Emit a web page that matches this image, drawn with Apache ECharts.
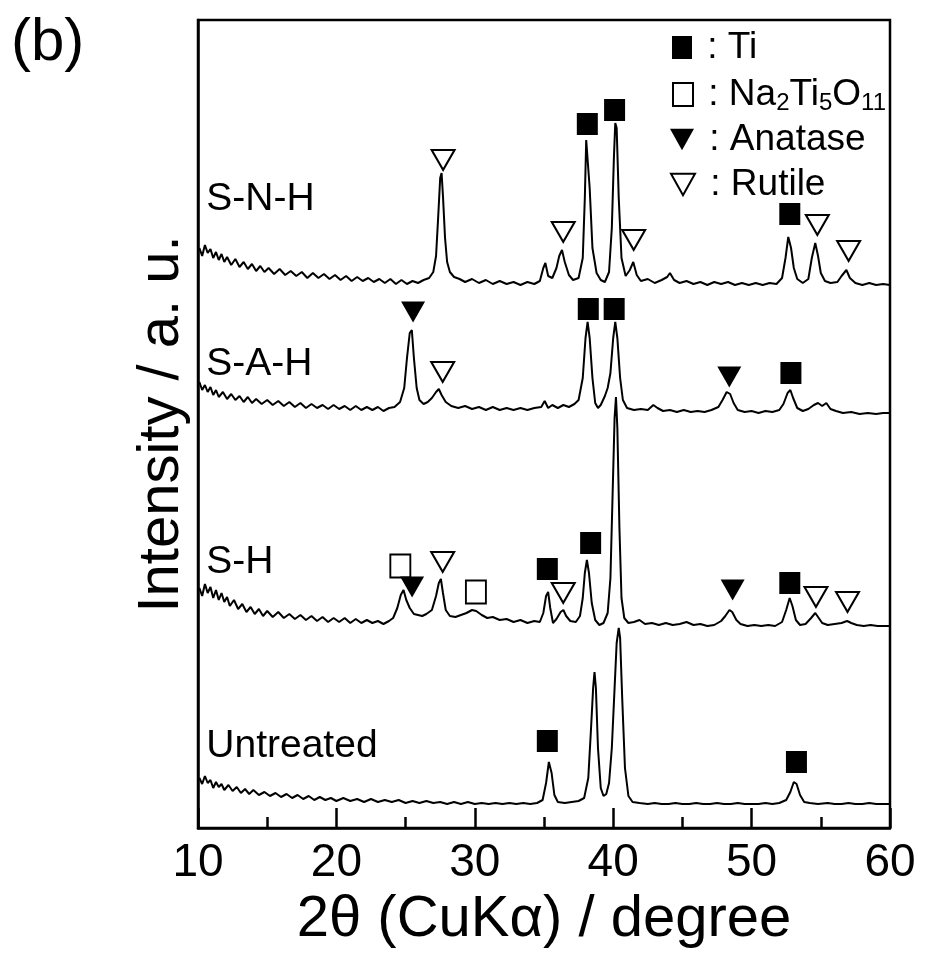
<!DOCTYPE html>
<html>
<head>
<meta charset="utf-8">
<script src="https://cdn.jsdelivr.net/npm/echarts@6/dist/echarts.min.js"></script>
<style>
  html, body { margin: 0; padding: 0; background: #fff; }
  #chart { width: 926px; height: 954px; }
</style>
</head>
<body>
<div id="chart"></div>
<script>
// XRD patterns, [2theta, intensity (arb.)]
const untreated = [[10.1,50],[10.3,44],[10.5,52],[10.7,45],[10.9,48],[11.1,40],[11.3,46],[11.5,41],[11.7,44],[11.9,38],[12.2,43],[12.5,37],[12.8,41],[13.1,35],[13.4,39],[13.7,34],[14.0,38],[14.4,33],[14.8,36],[15.2,32],[15.6,35],[16.0,31],[16.4,34],[16.8,30],[17.2,33],[17.6,29],[18.0,32],[18.4,28],[18.8,31],[19.2,28],[19.6,30],[20.0,27],[20.5,30],[21.0,27],[21.5,29],[22.0,26],[22.5,29],[23.0,26],[23.5,28],[24.0,26],[24.5,28],[25.0,25],[25.5,27],[26.0,25],[26.5,27],[27.0,25],[27.5,26],[28.0,24],[28.5,26],[29.0,24],[29.5,26],[30.0,24],[30.5,25],[31.0,24],[31.5,25],[32.0,24],[32.5,25],[33.0,24],[33.5,25],[34.0,24],[34.5,25],[34.9,28],[35.15,45],[35.35,66],[35.55,55],[35.75,33],[36.0,26],[36.5,25],[37.0,26],[37.5,27],[37.9,30],[38.2,50],[38.4,100],[38.55,140],[38.65,156],[38.75,140],[38.9,80],[39.1,40],[39.3,32],[39.5,34],[39.7,45],[39.9,80],[40.1,140],[40.25,185],[40.4,200],[40.5,190],[40.65,130],[40.85,60],[41.1,32],[41.4,26],[41.9,25],[42.5,24],[43.0,25],[43.5,24],[44.0,24],[44.5,25],[45.0,24],[45.5,24],[46.0,25],[46.5,24],[47.0,24],[47.5,25],[48.0,24],[48.5,24],[49.0,25],[49.5,24],[50.0,24],[50.5,24],[51.0,25],[51.5,24],[52.0,25],[52.5,28],[52.8,36],[53.05,46],[53.25,44],[53.5,33],[53.8,26],[54.2,25],[54.8,24],[55.5,25],[56.0,24],[56.5,24],[57.0,25],[57.5,24],[58.0,24],[58.5,25],[59.0,24],[59.5,24],[60.0,24]];

const sH = [[10.1,240],[10.3,232],[10.5,244],[10.7,235],[10.9,241],[11.1,230],[11.3,238],[11.5,228],[11.7,235],[11.9,226],[12.1,231],[12.3,222],[12.6,228],[12.9,219],[13.2,224],[13.5,216],[13.8,221],[14.1,214],[14.4,219],[14.7,212],[15.0,217],[15.4,211],[15.8,216],[16.2,210],[16.6,214],[17.0,209],[17.4,213],[17.8,208],[18.2,212],[18.6,207],[19.0,211],[19.4,206],[19.8,210],[20.2,206],[20.6,210],[21.0,205],[21.4,209],[21.8,205],[22.2,208],[22.6,205],[23.0,207],[23.4,204],[23.8,207],[24.1,210],[24.4,220],[24.65,233],[24.85,238],[25.05,228],[25.3,220],[25.6,214],[25.9,213],[26.2,212],[26.5,214],[26.9,218],[27.2,232],[27.4,245],[27.55,249],[27.7,235],[27.9,218],[28.2,212],[28.6,211],[29.0,213],[29.4,215],[29.8,218],[30.1,217],[30.5,213],[30.9,210],[31.3,211],[31.8,208],[32.3,209],[32.8,206],[33.3,208],[33.8,205],[34.3,207],[34.7,206],[34.95,215],[35.15,232],[35.3,236],[35.45,220],[35.65,205],[35.9,209],[36.2,216],[36.4,218],[36.6,212],[36.9,207],[37.3,206],[37.6,212],[37.8,230],[37.95,255],[38.1,268],[38.25,255],[38.45,225],[38.7,208],[39.0,203],[39.3,205],[39.6,215],[39.8,250],[39.95,330],[40.1,410],[40.2,431],[40.3,400],[40.45,300],[40.6,230],[40.8,210],[41.1,205],[41.5,206],[41.9,208],[42.3,204],[42.8,205],[43.3,203],[43.8,205],[44.3,203],[44.8,204],[45.3,206],[45.8,203],[46.3,204],[46.8,202],[47.3,203],[47.8,207],[48.1,212],[48.4,218],[48.6,216],[48.9,208],[49.2,204],[49.7,202],[50.2,203],[50.7,202],[51.2,203],[51.7,202],[52.2,206],[52.5,218],[52.75,230],[52.95,222],[53.2,208],[53.5,203],[53.9,204],[54.3,210],[54.6,215],[54.85,210],[55.1,205],[55.5,203],[56.0,204],[56.5,205],[56.9,207],[57.2,205],[57.6,203],[58.1,202],[58.6,203],[59.1,202],[59.6,202],[60.0,202]];

const sAH = [[10.1,446],[10.3,438],[10.5,443],[10.7,436],[10.9,441],[11.1,433],[11.3,438],[11.5,431],[11.8,436],[12.1,429],[12.4,434],[12.7,428],[13.0,432],[13.3,426],[13.6,431],[13.9,425],[14.2,429],[14.6,424],[15.0,428],[15.4,423],[15.8,427],[16.2,422],[16.6,426],[17.0,421],[17.4,425],[17.8,420],[18.2,424],[18.6,420],[19.0,423],[19.4,419],[19.8,423],[20.2,419],[20.6,422],[21.0,418],[21.4,422],[21.8,418],[22.2,421],[22.6,418],[23.0,421],[23.4,417],[23.8,420],[24.2,421],[24.6,426],[24.9,440],[25.1,470],[25.3,495],[25.45,498],[25.6,470],[25.8,440],[26.0,428],[26.3,424],[26.6,426],[26.9,430],[27.2,436],[27.4,439],[27.6,433],[27.9,426],[28.3,422],[28.8,420],[29.3,422],[29.8,419],[30.3,421],[30.8,418],[31.3,421],[31.8,418],[32.3,420],[32.8,418],[33.3,420],[33.8,418],[34.3,420],[34.8,421],[35.05,427],[35.3,420],[35.6,423],[36.0,420],[36.4,423],[36.8,421],[37.2,424],[37.5,428],[37.8,450],[38.0,490],[38.15,506],[38.3,490],[38.5,450],[38.7,425],[38.9,420],[39.1,423],[39.4,432],[39.6,440],[39.8,455],[40.0,490],[40.15,506],[40.3,490],[40.5,450],[40.7,428],[41.0,420],[41.5,418],[42.0,419],[42.5,418],[42.9,423],[43.2,420],[43.6,417],[44.1,418],[44.6,416],[45.1,418],[45.6,416],[46.1,417],[46.6,416],[47.1,418],[47.6,421],[47.9,428],[48.2,436],[48.45,434],[48.7,425],[49.0,418],[49.5,416],[50.0,417],[50.5,415],[51.0,417],[51.5,416],[52.0,418],[52.3,424],[52.6,435],[52.8,438],[53.0,430],[53.3,420],[53.7,417],[54.1,419],[54.5,423],[54.8,425],[55.1,422],[55.4,425],[55.7,419],[56.1,417],[56.6,415],[57.2,416],[57.8,414],[58.4,415],[59.0,414],[59.5,415],[60.0,415]];

const sNH = [[10.1,580],[10.3,572],[10.5,583],[10.7,575],[10.9,579],[11.1,570],[11.3,576],[11.5,568],[11.7,574],[11.9,566],[12.1,571],[12.4,563],[12.7,569],[13.0,561],[13.3,566],[13.6,559],[13.9,564],[14.2,557],[14.5,562],[14.8,556],[15.1,560],[15.5,554],[15.9,559],[16.3,553],[16.7,557],[17.1,552],[17.5,556],[17.9,550],[18.3,555],[18.7,550],[19.1,554],[19.5,549],[19.9,553],[20.3,548],[20.7,552],[21.1,547],[21.5,551],[21.9,547],[22.3,550],[22.7,546],[23.1,549],[23.5,545],[23.9,549],[24.3,544],[24.7,548],[25.1,544],[25.5,547],[25.9,545],[26.3,548],[26.7,550],[27.0,556],[27.2,572],[27.35,610],[27.5,650],[27.6,655],[27.7,632],[27.85,590],[28.0,566],[28.2,556],[28.5,551],[28.9,549],[29.3,546],[29.8,549],[30.3,545],[30.8,548],[31.3,544],[31.8,547],[32.3,544],[32.8,546],[33.3,543],[33.8,546],[34.3,544],[34.7,547],[34.95,560],[35.1,565],[35.3,552],[35.6,550],[35.9,560],[36.1,572],[36.3,578],[36.5,566],[36.8,553],[37.1,548],[37.5,550],[37.8,570],[37.95,630],[38.05,688],[38.15,690],[38.3,640],[38.5,580],[38.8,555],[39.1,548],[39.4,546],[39.7,556],[39.9,600],[40.05,670],[40.15,705],[40.25,700],[40.4,630],[40.6,570],[40.9,552],[41.2,558],[41.45,566],[41.7,553],[42.0,547],[42.5,549],[43.0,545],[43.5,548],[43.9,551],[44.1,555],[44.4,548],[44.8,545],[45.3,547],[45.8,544],[46.3,546],[46.8,543],[47.3,546],[47.8,544],[48.3,546],[48.8,543],[49.3,545],[49.8,543],[50.3,545],[50.8,543],[51.3,545],[51.8,544],[52.2,550],[52.45,570],[52.65,591],[52.85,580],[53.05,560],[53.3,549],[53.7,545],[54.1,549],[54.35,570],[54.6,585],[54.8,572],[55.0,555],[55.3,547],[55.7,545],[56.2,546],[56.5,552],[56.85,558],[57.1,550],[57.5,545],[58.0,543],[58.5,545],[59.0,543],[59.5,544],[60.0,543]];

// phase markers placed above the peaks
const tiMarks = [[38.13,704],[40.1,718],[52.76,614],[38.2,519],[40.07,519],[52.84,455],[35.24,259],[38.37,285],[52.76,245],[35.24,87],[53.24,66]];
const naMarks = [[24.62,262],[30.08,236]];
const anataseMarks = [[25.54,516],[48.39,451],[25.47,241],[48.63,238]];
const rutileMarks = [[27.71,668],[36.39,596],[41.48,588],[54.75,603],[57.01,577],[27.68,456],[27.68,266],[36.39,235],[54.65,231],[56.93,226]];

const phaseNames = ['Ti', 'Na2Ti5O11', 'Anatase', 'Rutile'];
const sampleNames = ['S-N-H', 'S-A-H', 'S-H', 'Untreated'];
const sampleLabelPos = [[10.6,629],[10.6,464],[10.6,266],[10.6,82]];

const xTicks = [10, 20, 30, 40, 50, 60];

const FONT = '"Liberation Sans", Arial, Helvetica, sans-serif';
const downTri = 'path://M0,0 L20,0 L10,18 Z';

const chart = echarts.init(document.getElementById('chart'));

function curve(name, data) {
  return {
    name: name,
    type: 'line',
    data: data,
    showSymbol: false,
    symbol: 'none',
    lineStyle: {color: '#000', width: 2},
    z: 2,
    silent: true
  };
}

function marks(name, data, symbol, size, filled) {
  return {
    name: name,
    type: 'scatter',
    data: data,
    symbol: symbol,
    symbolSize: size,
    itemStyle: {
      color: filled ? '#000' : '#fff',
      borderColor: '#000',
      borderWidth: filled ? 0 : 2,
      opacity: 1
    },
    z: 5,
    silent: true
  };
}

// one legend box per row, so each row sits where it does in the figure
function legendRow(name, top, iconW, left) {
  return {
    orient: 'horizontal',
    left: left,
    top: top,
    itemWidth: iconW,
    itemHeight: 23,
    selectedMode: false,
    data: [name],
    formatter: function (n) {
      if (n === 'Na2Ti5O11') {
        return '{t| : Na}{s|2}{t|Ti}{s|5}{t|O}{s|11}';
      }
      return '{t| : ' + n + '}';
    },
    textStyle: {
      fontFamily: FONT,
      fontSize: 37,
      color: '#000',
      rich: {
        t: {fontFamily: FONT, fontSize: 37, color: '#000', lineHeight: 42},
        s: {fontFamily: FONT, fontSize: 24, color: '#000', lineHeight: 16, verticalAlign: 'bottom'}
      }
    }
  };
}

const option = {
  animation: false,
  backgroundColor: '#fff',
  textStyle: {fontFamily: FONT, color: '#000'},
  title: {
    text: '(b)',
    left: 6,
    top: 8,
    textStyle: {fontFamily: FONT, fontSize: 60, fontWeight: 'normal', color: '#000'}
  },
  legend: [
    legendRow(phaseNames[0], 24, 20, 667),
    legendRow(phaseNames[1], 71, 20, 667),
    legendRow(phaseNames[2], 116, 24, 665),
    legendRow(phaseNames[3], 161, 24, 665)
  ],
  grid: {
    left: 198,
    right: 36,
    top: 20,
    bottom: 126,
    show: true,
    borderColor: '#000',
    borderWidth: 2.5,
    backgroundColor: 'transparent'
  },
  xAxis: {
    type: 'value',
    min: 10,
    max: 60,
    interval: 10,
    name: '2θ (CuKα) / degree',
    nameLocation: 'middle',
    nameGap: 60,
    nameTextStyle: {fontFamily: FONT, fontSize: 58, color: '#000'},
    axisLine: {show: true, lineStyle: {color: '#000', width: 2.5}},
    axisTick: {show: true, inside: true, length: 20, lineStyle: {color: '#000', width: 2.5}},
    minorTick: {show: true, splitNumber: 2, length: 11, lineStyle: {color: '#000', width: 2.5}},
    axisLabel: {
      fontFamily: FONT, fontSize: 46, color: '#000', margin: 12,
      formatter: function (v) { return xTicks.indexOf(v) >= 0 ? String(v) : ''; }
    },
    splitLine: {show: false}
  },
  yAxis: {
    type: 'value',
    min: 0,
    max: 808,
    name: 'Intensity / a. u.',
    nameLocation: 'middle',
    nameGap: 7,
    nameRotate: 90,
    nameTextStyle: {fontFamily: FONT, fontSize: 58, color: '#000'},
    axisLine: {show: true, lineStyle: {color: '#000', width: 2.5}},
    axisTick: {show: false},
    axisLabel: {show: false},
    splitLine: {show: false}
  },
  series: [
    curve('S-N-H', sNH),
    curve('S-A-H', sAH),
    curve('S-H', sH),
    curve('Untreated', untreated),
    marks(phaseNames[0], tiMarks, 'rect', [21, 22], true),
    marks(phaseNames[1], naMarks, 'rect', [20, 23], false),
    marks(phaseNames[2], anataseMarks, downTri, [24, 21], true),
    marks(phaseNames[3], rutileMarks, downTri, [23, 20], false),
    {
      name: 'labels',
      type: 'scatter',
      symbolSize: 0,
      silent: true,
      itemStyle: {opacity: 1},
      data: sampleLabelPos.map(function (p, i) { return {value: p, name: sampleNames[i]}; }),
      label: {
        show: true,
        position: 'right',
        distance: 0,
        formatter: '{b}',
        fontFamily: FONT,
        fontSize: 39,
        color: '#000'
      }
    }
  ]
};

chart.setOption(option);
</script>
</body>
</html>
